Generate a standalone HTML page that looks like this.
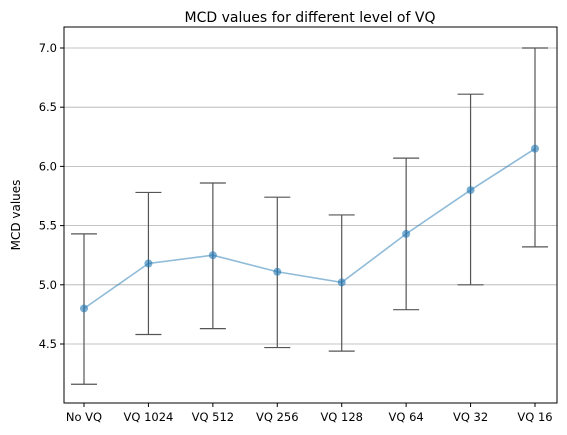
<!DOCTYPE html>
<html><head><meta charset="utf-8"><style>
body{margin:0;background:#fff;}
svg{display:block;font-family:"DejaVu Sans","Liberation Sans",sans-serif;}
</style></head><body>
<svg id="chart" width="567" height="435">
<rect x="0" y="0" width="567" height="435" fill="#fff"/>
<text x="310" y="22" text-anchor="middle" font-size="14">MCD values for different level of VQ</text>
<text transform="translate(20,215) rotate(-90)" text-anchor="middle" font-size="12">MCD values</text>
<g id="grid"></g><g id="marks"></g><g id="axes"></g>
</svg>
<script>
const categories=["No VQ","VQ 1024","VQ 512","VQ 256","VQ 128","VQ 64","VQ 32","VQ 16"];
const means=[4.80,5.18,5.25,5.11,5.02,5.43,5.80,6.15];
const upper=[5.43,5.78,5.86,5.74,5.59,6.07,6.61,7.00];
const lower=[4.16,4.58,4.63,4.47,4.44,4.79,5.00,5.32];
const yTicks=[4.5,5.0,5.5,6.0,6.5,7.0];
const NS="http://www.w3.org/2000/svg";
const L=64,R=557,T=27,B=403;
function y(v){return 48+(7-v)*118.4;}
function x(i){return 84+i*(535-84)/(categories.length-1);}
function mk(tag,attrs,parent){const e=document.createElementNS(NS,tag);for(const k in attrs)e.setAttribute(k,attrs[k]);parent.appendChild(e);return e;}
const grid=document.getElementById('grid'),marks=document.getElementById('marks'),axes=document.getElementById('axes');
yTicks.forEach(v=>{
 const g=mk('line',{x1:L,x2:R,y1:y(v),y2:y(v),stroke:'#b0b0b0','stroke-width':0.8},grid);
 
 
 mk('line',{x1:L-4,x2:L,y1:y(v),y2:y(v),stroke:'#000'},axes);
 const t=mk('text',{x:L-7,y:y(v)+4,'text-anchor':'end','font-size':11.5},axes);
 t.textContent=v.toFixed(1);
 
 
});
categories.forEach((c,i)=>{
 const eb=mk('g',{},marks);
 
 
 mk('line',{x1:x(i),x2:x(i),y1:y(lower[i]),y2:y(upper[i]),stroke:'#555','stroke-width':1.2},eb);
 mk('line',{x1:x(i)-13,x2:x(i)+13,y1:y(lower[i]),y2:y(lower[i]),stroke:'#555','stroke-width':1.2},eb);
 mk('line',{x1:x(i)-13,x2:x(i)+13,y1:y(upper[i]),y2:y(upper[i]),stroke:'#555','stroke-width':1.2},eb);
 mk('line',{x1:x(i),x2:x(i),y1:B,y2:B+4,stroke:'#000'},axes);
 const t=mk('text',{x:x(i),y:B+18,'text-anchor':'middle','font-size':11.5},axes);
 t.textContent=c;
 
 
});
const pl=mk('polyline',{points:means.map((v,i)=>x(i)+','+y(v)).join(' '),fill:'none',stroke:'#1f77b4','stroke-opacity':0.5,'stroke-width':1.6},marks);


means.forEach((v,i)=>{
 const c=mk('circle',{cx:x(i),cy:y(v),r:4,fill:'#1f77b4','fill-opacity':0.6},marks);
 
 
});
const f=mk('rect',{x:L,y:T,width:R-L,height:B-T,fill:'none',stroke:'#000','stroke-width':1},axes);


</script>
</body></html>
